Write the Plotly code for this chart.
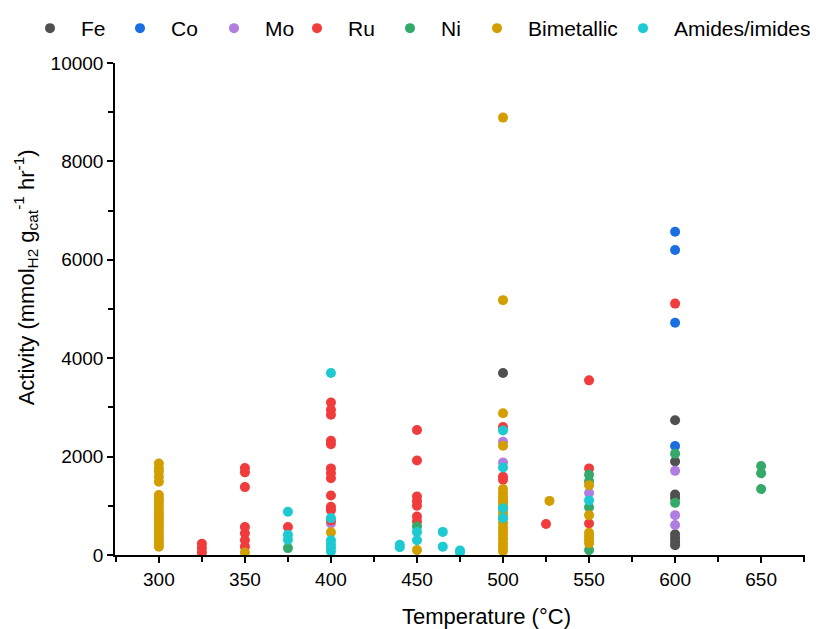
import plotly.graph_objects as go

# ---- data (temperature °C, activity mmol H2 g_cat^-1 hr^-1) ----
fe_t = [500, 600, 600, 600, 600, 600, 600, 600, 600]
fe_a = [3700, 2740, 1900, 1230, 1160, 420, 340, 270, 200]

co_t = [600, 600, 600, 600]
co_a = [6570, 6200, 4720, 2215]

mo_t = [600, 600, 600, 550, 500, 500, 400]
mo_a = [1710, 810, 610, 1260, 2300, 1880, 640]

ru_t = [325, 325, 325,
        350, 350, 350, 350, 350, 350, 350,
        375,
        400, 400, 400, 400, 400, 400, 400, 400, 400, 400, 400, 400,
        450, 450, 450, 450, 450, 450, 450,
        500, 500, 500,
        525,
        550, 550, 550,
        600]
ru_a = [230, 140, 50,
        1770, 1680, 1380, 570, 440, 300, 170,
        570,
        3100, 2950, 2850, 2320, 2250, 1760, 1660, 1560, 1210, 980, 910, 700,
        2540, 1920, 1190, 1090, 1000, 780, 680,
        2600, 1590, 1530,
        630,
        3550, 1760, 640,
        5110]

ni_t = [375, 450, 550, 550, 550, 550, 600, 600, 650, 650, 650]
ni_a = [140, 580, 1630, 1500, 970, 100, 2060, 1060, 1810, 1660, 1340]

bi_t = [300] * 21 + [350, 400, 450] + [500] * 21 + [527] + [550] * 6
bi_a = [1860, 1760, 1690, 1590, 1490, 1220, 1150, 1080, 1000, 930, 860, 790,
        720, 650, 580, 510, 440, 370, 300, 230, 170,
        50, 460, 100,
        8890, 5180, 2880, 2220, 1340, 1260, 1180, 1110, 1050, 980, 900, 820,
        740, 650, 560, 480, 400, 320, 240, 160, 80,
        1100,
        1420, 810, 450, 380, 310, 240]

am_t = [375, 375, 375, 400, 400, 400, 400, 400, 400, 440, 440, 450, 450,
        465, 465, 475, 475, 500, 500, 500, 500, 550]
am_a = [880, 410, 310, 3700, 750, 300, 220, 150, 70, 210, 160, 470, 300,
        470, 170, 90, 50, 2530, 1780, 950, 750, 1110]

series_names = ["Fe", "Co", "Mo", "Ru", "Ni", "Bimetallic", "Amides/imides"]
series_t = [fe_t, co_t, mo_t, ru_t, ni_t, bi_t, am_t]
series_a = [fe_a, co_a, mo_a, ru_a, ni_a, bi_a, am_a]
series_colors = ["#505050", "#1a6fe0", "#b07ee0", "#f03c3c", "#35a96a",
                 "#d29e00", "#1ecad2"]

x_ticks = [300, 350, 400, 450, 500, 550, 600, 650]
y_ticks = [0, 2000, 4000, 6000, 8000, 10000]
y_tick_labels = ["0", "2000", "4000", "6000", "8000", "10000"]

# legend marker centres (px from left of the figure)
legend_marker_px = [42, 132, 226, 309, 402, 489, 635]

FONT = "Liberation Sans, Arial, sans-serif"
W, H = 810, 621

fig = go.Figure()
legend_layouts = {}
for i, (name, t, a, col) in enumerate(zip(series_names, series_t, series_a,
                                          series_colors)):
    lg = "legend" if i == 0 else f"legend{i + 1}"
    fig.add_trace(go.Scatter(
        x=t, y=a, mode="markers", name=name, legend=lg, showlegend=True,
        marker=dict(size=10, color=col, line=dict(width=0)),
    ))
    legend_layouts[lg] = dict(
        orientation="h", xref="container", yref="container",
        x=(legend_marker_px[i] - 31) / W, y=1.0,
        xanchor="left", yanchor="top",
        itemwidth=52, borderwidth=0,
        font=dict(family=FONT, size=21, color="black"),
        bgcolor="rgba(0,0,0,0)",
    )

axis_common = dict(
    showline=True, linecolor="black", linewidth=1.5,
    ticks="outside", ticklen=6, tickwidth=1.5, tickcolor="black",
    showgrid=False, zeroline=False, mirror=False,
    tickfont=dict(family=FONT, size=19, color="black"),
)

fig.update_xaxes(
    range=[274.5, 675.5], tickvals=x_ticks,
    minor=dict(dtick=25, tick0=275, ticks="outside", ticklen=5,
               tickwidth=1.5, tickcolor="black"),
    **axis_common,
)
fig.update_yaxes(
    range=[0, 10000], tickvals=y_ticks, ticktext=y_tick_labels,
    minor=dict(dtick=1000, ticks="outside", ticklen=5,
               tickwidth=1.5, tickcolor="black"),
    **axis_common,
)

fig.add_annotation(
    text="Temperature (°C)", xref="paper", yref="paper",
    x=0.538, y=-0.126, xanchor="center", yanchor="middle",
    showarrow=False, font=dict(family=FONT, size=22, color="black"),
)
fig.add_annotation(
    text="Activity (mmol<sub>H2</sub> g<sub>cat</sub><sup>-1</sup> hr<sup>-1</sup>)",
    xref="paper", yref="paper", x=-0.130, y=0.565,
    xanchor="center", yanchor="middle", textangle=-90,
    showarrow=False, font=dict(family=FONT, size=22, color="black"),
)

fig.update_layout(
    width=W, height=H, showlegend=True,
    margin=dict(l=107, r=13, t=55, b=74, autoexpand=False),
    paper_bgcolor="white", plot_bgcolor="white",
    font=dict(family=FONT, color="black"),
    **legend_layouts,
)

fig.write_html("out.html")
